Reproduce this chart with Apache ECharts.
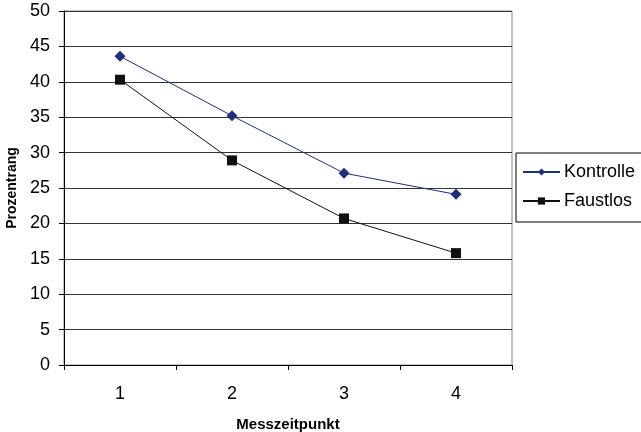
<!DOCTYPE html>
<html><head><meta charset="utf-8">
<script src="https://cdn.jsdelivr.net/npm/echarts@6/dist/echarts.min.js"></script>
<style>html,body{margin:0;padding:0;background:#fff}#c{width:641px;height:432px}</style>
</head><body><div id="c"></div>
<script>
const categories = ['1', '2', '3', '4'];
const kontrolle = [43.6, 35.2, 27.1, 24.1];
const faustlos = [40.3, 28.9, 20.7, 15.8];
const yTicks = [0, 5, 10, 15, 20, 25, 30, 35, 40, 45, 50];

const chart = echarts.init(document.getElementById('c'), null, {renderer: 'canvas'});
const font = 'Liberation Sans, Arial, sans-serif';
chart.setOption({
  animation: false,
  backgroundColor: '#fff',
  grid: {left: 64, top: 11, width: 448, height: 354, show: true, borderColor: '#888', borderWidth: 1,
    backgroundColor: 'transparent', containLabel: false, outerBoundsMode: 'none'},
  legend: {
    orient: 'vertical', left: 516, top: 153, width: 140,
    data: ['Kontrolle', 'Faustlos'],
    itemWidth: 37, itemHeight: 9, itemGap: 11,
    padding: [10, 20, 12, 6],
    borderColor: '#000', borderWidth: 1,
    textStyle: {fontFamily: font, fontSize: 18, color: '#000', padding: [0, 0, 0, -1]}
  },
  xAxis: {
    type: 'category', data: categories, boundaryGap: true,
    name: 'Messzeitpunkt', nameLocation: 'middle', nameGap: 52,
    nameTextStyle: {fontFamily: font, fontSize: 15, fontWeight: 'bold', color: '#000'},
    axisLine: {lineStyle: {color: '#000', width: 1}},
    axisTick: {show: true, length: 5, inside: false, lineStyle: {color: '#000'}},
    axisLabel: {fontFamily: font, fontSize: 18, color: '#000', margin: 20},
    splitLine: {show: false}
  },
  yAxis: {
    type: 'value', min: 0, max: 50, interval: 5,
    name: 'Prozentrang', nameLocation: 'middle', nameGap: 44, nameRotate: 90,
    nameTextStyle: {fontFamily: font, fontSize: 14, fontWeight: 'bold', color: '#000'},
    axisLine: {show: true, lineStyle: {color: '#000', width: 1}},
    axisTick: {show: true, length: 5, inside: false, lineStyle: {color: '#000'}},
    axisLabel: {fontFamily: font, fontSize: 18, color: '#000', margin: 14,
      formatter: v => yTicks.includes(v) ? String(v) : ''},
    splitLine: {show: true, lineStyle: {color: '#333', width: 1}}
  },
  series: [
    {name: 'Kontrolle', type: 'line', data: kontrolle, symbol: 'diamond', symbolSize: 11,
      itemStyle: {color: '#1f2f7a'}, lineStyle: {color: '#1f2f7a', width: 1}},
    {name: 'Faustlos', type: 'line', data: faustlos, symbol: 'rect', symbolSize: 10,
      itemStyle: {color: '#111'}, lineStyle: {color: '#111', width: 1}}
  ]
});
</script></body></html>
